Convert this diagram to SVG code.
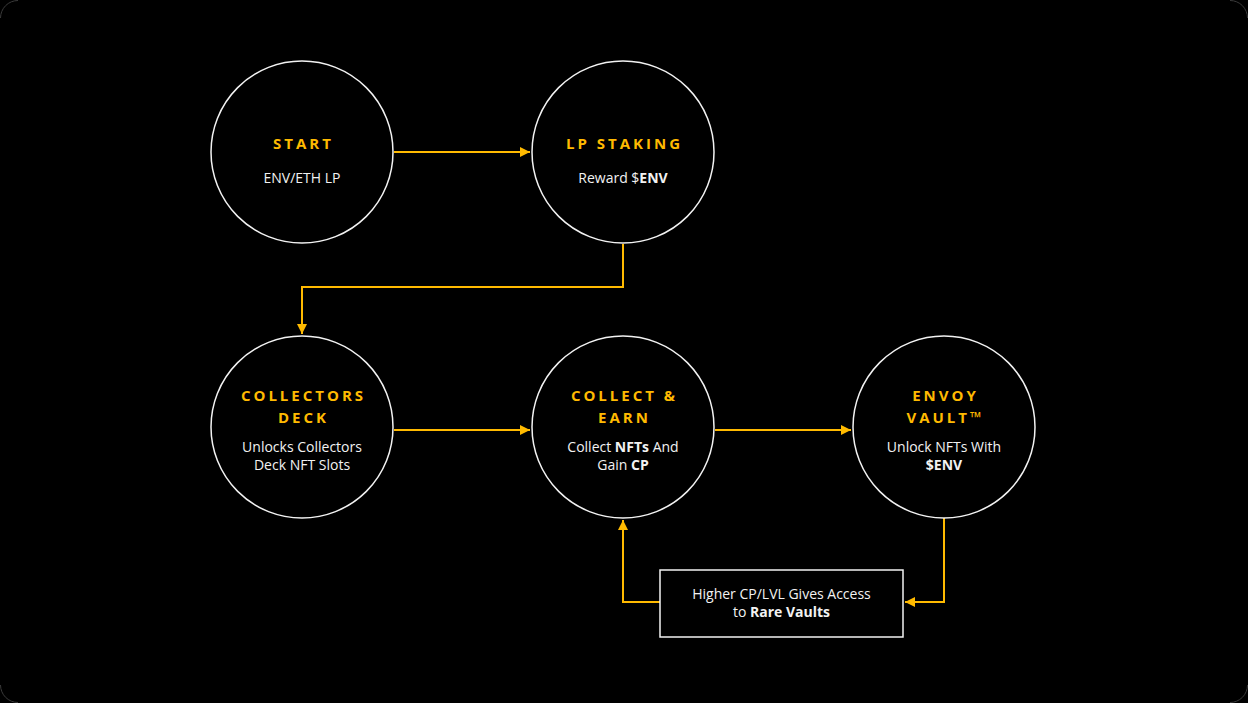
<svg xmlns="http://www.w3.org/2000/svg" width="1248" height="703" viewBox="0 0 1248 703">
<style>
.node circle{fill:#000;stroke:#f2f2f2;stroke-width:1.5}
.t{font-family:"Open Sans","Liberation Sans",sans-serif;font-weight:700;font-size:15px;letter-spacing:3px;fill:#FFBA00;text-anchor:middle}
.s{font-family:"Open Sans","Liberation Sans",sans-serif;font-size:14px;fill:#f2f2f2;text-anchor:middle}
.b{font-weight:700}
.c{fill:none;stroke:#FFBA00;stroke-width:2}
.corner{fill:none;stroke:#3a3a3a;stroke-width:1}
</style>
<defs>
<marker id="ah" viewBox="0 0 10 10" refX="10" refY="5" markerWidth="10" markerHeight="10" markerUnits="userSpaceOnUse" orient="auto"><path d="M0,0 L10,5 L0,10 z" fill="#FFBA00"/></marker>
</defs>
<rect x="0" y="0" width="1248" height="703" fill="#000"/>
<path class="corner" d="M0.5,18 A17.5,17.5 0 0 1 18,0.5"/>
<path class="corner" d="M1230,0.5 A17.5,17.5 0 0 1 1247.5,18"/>
<path class="corner" d="M1247.5,685 A17.5,17.5 0 0 1 1230,702.5"/>
<path class="corner" d="M18,702.5 A17.5,17.5 0 0 1 0.5,685"/>
<g id="connectors">
<path class="c" d="M394,152 H530" marker-end="url(#ah)"/>
<path class="c" d="M623,244 V287 H302 V334" marker-end="url(#ah)"/>
<path class="c" d="M394,430 H530" marker-end="url(#ah)"/>
<path class="c" d="M715,430 H851" marker-end="url(#ah)"/>
<path class="c" d="M944,518 V602 H905" marker-end="url(#ah)"/>
<path class="c" d="M660,602 H623 V520" marker-end="url(#ah)"/>
</g>
<g id="start" class="node">
<circle cx="302" cy="152" r="91"/>
<text class="t" x="303.5" y="149">START</text>
<text class="s" x="302" y="183">ENV/ETH LP</text>
</g>
<g id="lp-staking" class="node">
<circle cx="623" cy="152" r="91"/>
<text class="t" x="624.5" y="149">LP STAKING</text>
<text class="s" x="623" y="183">Reward $<tspan class="b">ENV</tspan></text>
</g>
<g id="collectors-deck" class="node">
<circle cx="302" cy="427" r="91"/>
<text class="t" x="303.5" y="401">COLLECTORS</text>
<text class="t" x="303.5" y="423">DECK</text>
<text class="s" x="302" y="452">Unlocks Collectors</text>
<text class="s" x="302" y="470">Deck NFT Slots</text>
</g>
<g id="collect-earn" class="node">
<circle cx="623" cy="427" r="91"/>
<text class="t" x="624.5" y="401">COLLECT &amp;</text>
<text class="t" x="624.5" y="423">EARN</text>
<text class="s" x="623" y="452">Collect <tspan class="b">NFTs</tspan> And</text>
<text class="s" x="623" y="470">Gain <tspan class="b">CP</tspan></text>
</g>
<g id="envoy-vault" class="node">
<circle cx="944" cy="427" r="91"/>
<text class="t" x="945.5" y="401">ENVOY</text>
<text class="t" x="945.5" y="423">VAULT™</text>
<text class="s" x="944" y="452">Unlock NFTs With</text>
<text class="s" x="944" y="470"><tspan class="b">$ENV</tspan></text>
</g>
<g id="rare-vaults" class="node">
<rect x="660" y="570" width="243" height="67" fill="#000" stroke="#f2f2f2" stroke-width="1.5"/>
<text class="s" x="781.5" y="599">Higher CP/LVL Gives Access</text>
<text class="s" x="781.5" y="617">to <tspan class="b">Rare Vaults</tspan></text>
</g>
</svg>
